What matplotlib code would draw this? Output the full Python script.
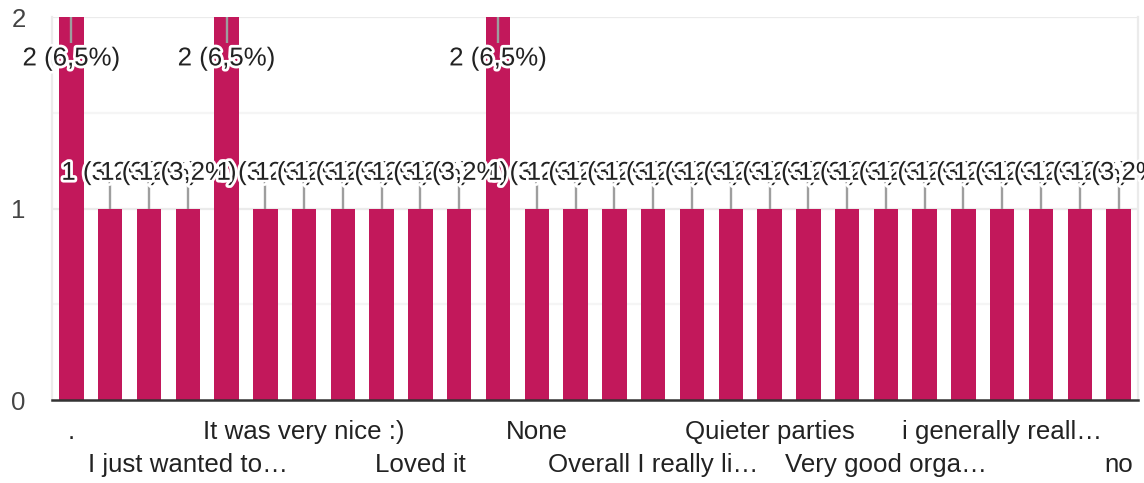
import matplotlib
matplotlib.use("Agg")
import matplotlib.pyplot as plt
import matplotlib.patheffects as pe
from matplotlib.transforms import blended_transform_factory

# data ==========================================================================
# answers only shown every third bar in the chart, the rest can't be read
answers = [".", "", "", "I just wanted to…", "", "", "It was very nice :)", "", "",
           "Loved it", "", "", "None", "", "", "Overall I really li…", "", "",
           "Quieter parties", "", "", "Very good orga…", "", "", "i generally reall…",
           "", "", "no"]
counts = [2, 1, 1, 1, 2, 1, 1, 1, 1, 1, 1, 2, 1, 1,
          1, 1, 1, 1, 1, 1, 1, 1, 1, 1, 1, 1, 1, 1]
total = 31
y_ticks = [0, 1, 2]

# style =========================================================================
bar_color = "#c2185b"
plt.rcParams["font.family"] = ["Liberation Sans", "DejaVu Sans"]
fs = 18.6

fig = plt.figure(figsize=(11.44, 4.83), dpi=100)
ax = fig.add_axes([52 / 1144, 83 / 483, (1138 - 52) / 1144, (400 - 17.5) / 483])

x = list(range(len(counts)))
ax.bar(x, counts, width=0.63, color=bar_color, zorder=2)

ax.set_xlim(-0.5, len(counts) - 0.5)
ax.set_ylim(0, max(y_ticks))

# grid
for v in y_ticks[1:]:
    ax.axhline(v, color="#ebebeb", lw=1.6, zorder=0)
for v in [0.5, 1.5]:
    ax.axhline(v, color="#f5f5f5", lw=1.6, zorder=0)

for s in ["left", "right"]:
    ax.spines[s].set_color("#ebebeb")
    ax.spines[s].set_linewidth(1.6)
ax.spines["top"].set_visible(False)
ax.spines["bottom"].set_color("#333333")
ax.spines["bottom"].set_linewidth(1.8)
ax.spines["bottom"].set_zorder(3)

ax.set_yticks(y_ticks)
ax.set_yticklabels([str(t) for t in y_ticks], fontsize=fs, color="#444444")
ax.tick_params(axis="y", length=0, pad=19)
ax.set_xticks([])

# category labels, two staggered rows
trans = blended_transform_factory(ax.transData, ax.transAxes)
for i, name in enumerate(answers):
    if i % 6 == 0:
        ax.text(i, -32 / 383, name, transform=trans, ha="center", va="center",
                fontsize=fs, color="#222222")
    elif i % 6 == 3:
        ax.text(i, -65 / 383, name, transform=trans, ha="center", va="center",
                fontsize=fs, color="#222222")

# value labels with little grey leader lines
px = 383 / max(y_ticks)   # pixels per unit
halo = [pe.withStroke(linewidth=4, foreground="white")]
for i, c in enumerate(counts):
    pct = f"{c / total * 100:.1f}".replace(".", ",")
    label = f"{c} ({pct}%)"
    if c >= max(y_ticks):
        ax.plot([i, i], [c, c - 26 / px], color="#9e9e9e", lw=1.7, zorder=4,
                solid_capstyle="butt")
        ty = c - 41 / px
    else:
        ax.plot([i, i], [c, c + 26 / px], color="#9e9e9e", lw=1.7, zorder=4,
                solid_capstyle="butt")
        ty = c + 36 / px
    ax.text(i, ty, label, ha="center", va="center", fontsize=fs, color="#222222",
            path_effects=halo, zorder=5 + i)

fig.savefig("out.png", dpi=100)
